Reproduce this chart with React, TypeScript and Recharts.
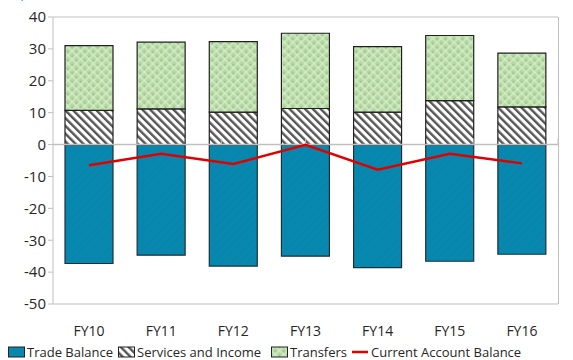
import { ComposedChart, Bar, Line, XAxis, YAxis, ReferenceLine } from 'recharts';

const years = ['FY10', 'FY11', 'FY12', 'FY13', 'FY14', 'FY15', 'FY16'];
const tradeBalance = [-37.3, -34.7, -38.1, -35.0, -38.6, -36.6, -34.4];
const servicesIncome = [10.7, 11.2, 10.2, 11.3, 10.2, 13.8, 11.8];
const transfers = [20.3, 20.9, 22.1, 23.6, 20.5, 20.4, 16.9];
const currentAccount = [-6.5, -2.9, -6.1, -0.1, -7.9, -2.9, -5.9];
const yTicks = [40, 30, 20, 10, 0, -10, -20, -30, -40, -50];
// category boundaries where the zero axis carries small tick marks
const categoryEdges = [1, 2, 3, 4, 5, 6];

const data = years.map((year, i) => ({
  year,
  trade: tradeBalance[i],
  services: servicesIncome[i],
  transfers: transfers[i],
  cab: currentAccount[i],
}));

const FONT = "'Open Sans', 'Noto Sans', sans-serif";
const TEXT = '#262626';
const GRID = '#BFBFBF';

const Patterns = () => (
  <svg width={0} height={0} style={{ position: 'absolute' }}>
    <defs>
      <pattern id="tradeFill" width={6} height={6} patternUnits="userSpaceOnUse" patternTransform="rotate(45)">
        <rect width={6} height={6} fill="#0589B0" />
        <rect width={1.5} height={6} fill="#0F82A6" />
      </pattern>
      <pattern id="servicesFill" width={5.5} height={5.5} patternUnits="userSpaceOnUse" patternTransform="rotate(-45)">
        <rect width={5.5} height={5.5} fill="#ffffff" />
        <rect width={2.4} height={5.5} fill="#555555" />
      </pattern>
      <pattern id="transfersFill" width={6} height={6} patternUnits="userSpaceOnUse" patternTransform="rotate(45)">
        <rect width={6} height={6} fill="#B3D9A0" />
        <rect x={0} y={2.5} width={6} height={1} fill="#E2F0DA" />
        <rect x={2.5} y={0} width={1} height={6} fill="#E2F0DA" />
        <rect x={0} y={0} width={1.5} height={1.5} fill="#8DC275" />
      </pattern>
    </defs>
  </svg>
);

// legend entries with their left offsets along the bottom row
const legendItems = [
  { label: 'Trade Balance', fill: 'url(#tradeFill)', kind: 'box', x: 8 },
  { label: 'Services and Income', fill: 'url(#servicesFill)', kind: 'box', x: 118 },
  { label: 'Transfers', fill: 'url(#transfersFill)', kind: 'box', x: 271 },
  { label: 'Current Account Balance', fill: '#E00000', kind: 'line', x: 351 },
];

const ChartLegend = () => (
  <div style={{ position: 'absolute', left: 0, top: 343, width: 573, height: 17, fontFamily: FONT, fontSize: 13, color: TEXT, whiteSpace: 'nowrap' }}>
    {legendItems.map((item) => (
      <span key={item.label} style={{ position: 'absolute', left: item.x, top: 0, display: 'inline-flex', alignItems: 'center', height: 17 }}>
        <svg width={item.kind === 'line' ? 19 : 18} height={12} style={{ marginRight: 1 }}>
          {item.kind === 'line' ? (
            <line x1={1} y1={6} x2={17} y2={6} stroke={item.fill} strokeWidth={2.5} />
          ) : (
            <rect x={0.5} y={1} width={16} height={10} fill={item.fill} stroke="#222" strokeWidth={1} />
          )}
        </svg>
        {item.label}
      </span>
    ))}
  </div>
);

const App = () => (
  <div style={{ position: 'absolute', left: 0, top: 0, width: 573, height: 360, background: '#fff', overflow: 'hidden' }}>
    <Patterns />
    <ComposedChart
      width={573}
      height={360}
      data={data}
      stackOffset="sign"
      barCategoryGap={12}
      margin={{ top: 17, right: 15, left: 0, bottom: 0 }}
    >
      <text x={0} y={-3} fill="#2E9BD6" fontFamily={FONT} fontSize={14}>
        (In percent of GDP)
      </text>
      <XAxis
        dataKey="year"
        axisLine={false}
        tickLine={false}
        tick={{ fontSize: 14, fill: TEXT, fontFamily: FONT }}
        tickMargin={16}
        height={56}
      />
      <XAxis xAxisId="edges" type="number" domain={[0, 7]} hide />
      <YAxis
        domain={[-50, 40]}
        ticks={yTicks}
        interval={0}
        allowDataOverflow
        width={53}
        axisLine={{ stroke: GRID }}
        tickLine={{ stroke: GRID }}
        tickSize={5}
        tick={{ fontSize: 15, fill: TEXT, fontFamily: FONT }}
      />
      <ReferenceLine y={40} stroke={GRID} />
      <ReferenceLine y={-50} stroke={GRID} />
      <Bar dataKey="trade" stackId="a" fill="url(#tradeFill)" stroke="#1E2F3A" strokeWidth={1.2} isAnimationActive={false} />
      <Bar dataKey="services" stackId="a" fill="url(#servicesFill)" stroke="#1F1F1F" strokeWidth={1.2} isAnimationActive={false} />
      <Bar dataKey="transfers" stackId="a" fill="url(#transfersFill)" stroke="#1F1F1F" strokeWidth={1.2} isAnimationActive={false} />
      <ReferenceLine y={0} stroke={GRID} strokeWidth={1.5} />
      {categoryEdges.map((edge) => (
        <ReferenceLine
          key={edge}
          xAxisId="edges"
          segment={[{ x: edge, y: 0 }, { x: edge, y: 1.9 }]}
          stroke={GRID}
        />
      ))}
      <Line dataKey="cab" type="linear" stroke="#E00000" strokeWidth={2.5} dot={false} isAnimationActive={false} />
    </ComposedChart>
    <div style={{ position: 'absolute', left: 558, top: 17, width: 1, height: 287, background: GRID }} />
    <ChartLegend />
  </div>
);

export default App;
